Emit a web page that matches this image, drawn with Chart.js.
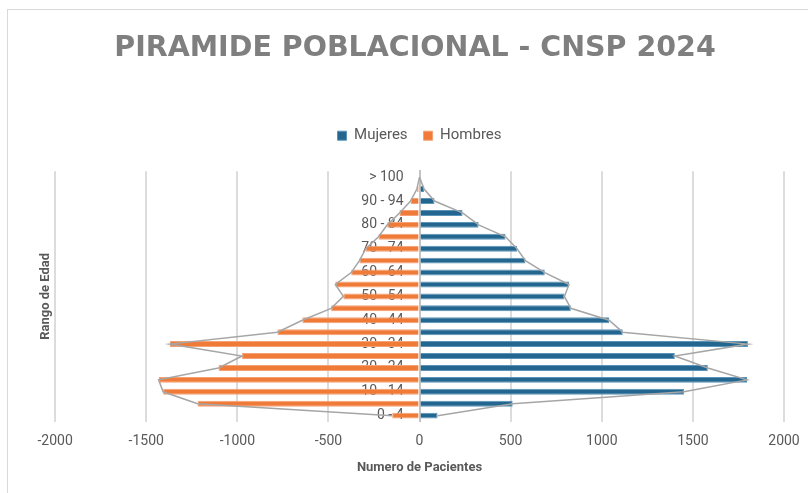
<!DOCTYPE html>
<html>
<head>
<meta charset="utf-8">
<script src="https://cdn.jsdelivr.net/npm/chart.js@4.4.1/dist/chart.umd.min.js"></script>
<style>
  html, body { margin: 0; padding: 0; background: #fff; overflow: hidden; }
  #frame { position: absolute; left: 7px; top: 9px; width: 830px; height: 520px; border: 1px solid #d9d9d9; }
  #wrap { position: absolute; left: 0; top: 0; width: 808px; height: 493px; }
</style>
</head>
<body>
<div id="frame"></div>
<div id="wrap"><canvas id="pyramidChart"></canvas></div>
<script>
// rangos de edad, de abajo hacia arriba
var ageLabels = ['0 - 4', '5 - 9', '10 - 14', '15 - 19', '20 - 24', '25 - 29', '30 - 34',
    '35 - 39', '40 - 44', '45 - 49', '50 - 54', '55 - 59', '60 - 64', '65 - 69',
    '70 - 74', '75 - 79', '80 - 84', '85 - 89', '90 - 94', '95 - 99', '> 100'];

var mujeres = [99, 511, 1451, 1797, 1582, 1401, 1802, 1115, 1040, 830, 795,
    820, 687, 581, 535, 472, 324, 236, 82, 25, 0];

var hombres = [-150, -1218, -1407, -1432, -1103, -974, -1370, -780, -643, -485, -418,
    -462, -375, -330, -295, -225, -177, -110, -49, -15, 0];

var xTicks = [-2000, -1500, -1000, -500, 0, 500, 1000, 1500, 2000];

var gray = '#595959';
var fontFamily = 'Roboto, "Open Sans", sans-serif';

// espacio bajo la leyenda, leyenda centrada sobre el area del grafico
var legendGap = {
    id: 'legendGap',
    beforeInit: function(chart) {
        var fitLegend = chart.legend.fit;
        chart.legend.fit = function fit() {
            fitLegend.bind(chart.legend)();
            this.height += 18;
        };
    },
    afterLayout: function(chart) {
        var legend = chart.legend;
        legend.left = chart.chartArea.left;
        legend.right = chart.chartArea.right;
        legend.width = legend.right - legend.left;
        // titulo centrado en el marco
        chart.titleBlock.left += 6;
        chart.titleBlock.right += 6;
    }
};

var ctx = document.getElementById('pyramidChart').getContext('2d');
var pyramidChart = new Chart(ctx, {
    type: 'bar',
    data: {
        labels: ageLabels,
        datasets: [{
            label: 'Mujeres',
            data: mujeres,
            backgroundColor: '#23668f',
            borderColor: '#5a94b8',
            borderWidth: 1,
            grouped: false,
            categoryPercentage: 1,
            barPercentage: 0.5,
            xAxisID: 'x',
            yAxisID: 'y',
            order: 1
        }, {
            label: 'Hombres',
            data: hombres,
            backgroundColor: '#f07a38',
            borderColor: '#f5a173',
            borderWidth: 1,
            grouped: false,
            categoryPercentage: 1,
            barPercentage: 0.5,
            xAxisID: 'x',
            yAxisID: 'y',
            order: 1
        }, {
            type: 'line',
            label: 'contorno mujeres',
            data: mujeres,
            borderColor: '#a6a6a6',
            borderWidth: 1.5,
            pointRadius: 0,
            fill: false,
            tension: 0,
            xAxisID: 'x',
            yAxisID: 'y',
            order: 0
        }, {
            type: 'line',
            label: 'contorno hombres',
            data: hombres,
            borderColor: '#a6a6a6',
            borderWidth: 1.5,
            pointRadius: 0,
            fill: false,
            tension: 0,
            xAxisID: 'x',
            yAxisID: 'y',
            order: 0
        }]
    },
    options: {
        responsive: true,
        maintainAspectRatio: false,
        animation: false,
        indexAxis: 'y',
        layout: {
            padding: { left: 34, right: 24, top: 10, bottom: 13 }
        },
        plugins: {
            title: {
                display: true,
                text: 'PIRAMIDE POBLACIONAL - CNSP 2024',
                color: '#7f7f7f',
                font: { family: '"DejaVu Sans", sans-serif', size: 28.5, weight: 'bold' },
                padding: { top: 21, bottom: 47 }
            },
            legend: {
                position: 'top',
                labels: {
                    filter: function(item) { return item.datasetIndex < 2; },
                    boxWidth: 9,
                    boxHeight: 9,
                    color: gray,
                    font: { family: fontFamily, size: 15 },
                    padding: 16
                }
            },
            tooltip: { enabled: false }
        },
        scales: {
            x: {
                min: -2000,
                max: 2000,
                afterBuildTicks: function(scale) {
                    scale.ticks = xTicks.map(function(v) { return { value: v }; });
                },
                afterFit: function(scale) {
                    scale.paddingRight = 0;
                },
                ticks: {
                    color: gray,
                    font: { family: fontFamily, size: 14 },
                    padding: 11,
                    callback: function(value) { return String(value); }
                },
                grid: { color: '#dcdcdc', lineWidth: 2, drawTicks: false },
                border: { display: false },
                title: {
                    display: true,
                    text: 'Numero de Pacientes',
                    color: gray,
                    font: { family: fontFamily, size: 13, weight: 'bold' },
                    padding: { top: 0, bottom: 4 }
                }
            },
            y: {
                type: 'category',
                reverse: true,
                position: 'center',
                ticks: {
                    autoSkip: false,
                    color: gray,
                    font: { family: fontFamily, size: 14 },
                    padding: 16,
                    callback: function(value, index) {
                        return index % 2 === 0 ? ageLabels[index] : '';
                    }
                },
                grid: { display: false, drawTicks: false },
                border: { color: '#c4c4c4', width: 2 }
            },
            yTitle: {
                type: 'category',
                position: 'left',
                ticks: { display: false },
                grid: { display: false, drawTicks: false },
                border: { display: false },
                title: {
                    display: true,
                    text: 'Rango de Edad',
                    color: gray,
                    font: { family: fontFamily, size: 13, weight: 'bold' },
                    padding: { top: 4, bottom: 1.5 }
                }
            }
        }
    },
    plugins: [legendGap]
});
</script>
</body>
</html>
